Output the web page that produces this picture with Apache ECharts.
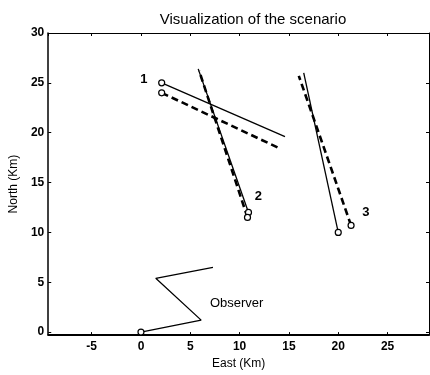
<!DOCTYPE html>
<html>
<head>
<meta charset="utf-8">
<script src="https://cdn.jsdelivr.net/npm/echarts@6/dist/echarts.min.js"></script>
<style>
  html, body { margin: 0; padding: 0; background: #fff; }
  #chart { width: 430px; height: 375px; }
</style>
</head>
<body>
<div id="chart"></div>
<script>
// target tracks: true (solid) and estimated (dashed), first point = start circle
var track1True = [[2.1, 25.0], [14.6, 19.6]];
var track1Est = [[2.1, 24.0], [13.9, 18.5]];
var track2True = [[10.9, 12.0], [5.8, 26.4]];
var track2Est = [[10.8, 11.5], [5.9, 26.2]];
var track3True = [[20.0, 10.0], [16.5, 26.0]];
var track3Est = [[21.3, 10.7], [16.0, 25.7]];
// observer path
var observerPath = [[0, 0], [6.1, 1.2], [1.5, 5.4], [7.3, 6.5]];
// text labels
var labelNames = ["1", "2", "3", "Observer"];
var labelPos = [[0.3, 25.3], [11.9, 13.6], [22.8, 12.0], [9.7, 2.9]];

var startPoints = [track1True, track1Est, track2True, track2Est, track3True, track3Est, observerPath]
  .map(function (t) { return t[0]; });

var chart = echarts.init(document.getElementById("chart"));

function solid(data) {
  return { type: "line", data: data, symbol: "none", lineStyle: { color: "#000", width: 1.3 }, z: 3 };
}
function dashed(data) {
  return { type: "line", data: data, symbol: "none", lineStyle: { color: "#000", width: 2.6, type: [7, 4] }, z: 2 };
}

var font = "Liberation Sans, Arial, sans-serif";

var option = {
  animation: false,
  title: {
    text: "Visualization of the scenario",
    left: 248, top: 7, textAlign: "center",
    textStyle: { fontFamily: font, fontSize: 15, fontWeight: "normal", color: "#000" }
  },
  grid: { left: 43, right: 1, top: 33, bottom: 33 },
  xAxis: [
    {
      type: "value", min: -9.4, max: 29.2, splitNumber: 8,
      name: "East (Km)", nameLocation: "middle", nameGap: 20,
      nameTextStyle: { fontFamily: font, fontSize: 12, color: "#000" },
      axisLine: { onZero: false, lineStyle: { color: "#000", width: 1.8 } },
      axisTick: { inside: true, length: 3, lineStyle: { color: "#000" } },
      axisLabel: { fontFamily: font, fontSize: 12, fontWeight: "bold", color: "#000", margin: 6,
        showMinLabel: false, showMaxLabel: false },
      splitLine: { show: false }
    },
    {
      type: "value", position: "top", min: -9.4, max: 29.2, splitNumber: 8,
      axisLine: { onZero: false, lineStyle: { color: "#000", width: 1 } },
      axisTick: { inside: true, length: 3, lineStyle: { color: "#000" } },
      axisLabel: { show: false },
      splitLine: { show: false }
    }
  ],
  yAxis: [
    {
      type: "value", min: -0.3, max: 30, splitNumber: 6,
      name: "North (Km)", nameLocation: "middle", nameGap: 24,
      nameTextStyle: { fontFamily: font, fontSize: 12, color: "#000" },
      axisLine: { onZero: false, lineStyle: { color: "#000", width: 1.5 } },
      axisTick: { inside: true, length: 3, lineStyle: { color: "#000" } },
      axisLabel: { fontFamily: font, fontSize: 12, fontWeight: "bold", color: "#000", margin: 4,
        showMinLabel: false },
      splitLine: { show: false }
    },
    {
      type: "value", position: "right", min: -0.3, max: 30, splitNumber: 6,
      axisLine: { onZero: false, lineStyle: { color: "#000", width: 1 } },
      axisTick: { inside: true, length: 3, lineStyle: { color: "#000" } },
      axisLabel: { show: false },
      splitLine: { show: false }
    }
  ],
  series: [
    solid(track1True), dashed(track1Est),
    solid(track2True), dashed(track2Est),
    solid(track3True), dashed(track3Est),
    solid(observerPath),
    {
      type: "scatter", data: startPoints, symbol: "circle", symbolSize: 6,
      itemStyle: { color: "#fff", borderColor: "#000", borderWidth: 1.2, opacity: 1 }, z: 5
    },
    {
      type: "scatter", symbolSize: 0,
      itemStyle: { opacity: 1 },
      data: labelNames.map(function (n, i) { return { name: n, value: labelPos[i] }; }),
      label: {
        show: true, position: "inside", formatter: "{b}",
        fontFamily: font, color: "#000", opacity: 1,
        fontSize: 13, fontWeight: "bold"
      },
      z: 6
    }
  ]
};

// "Observer" label is regular weight
option.series[8].data[3].label = { fontWeight: "normal", fontSize: 13 };

chart.setOption(option);
</script>
</body>
</html>
